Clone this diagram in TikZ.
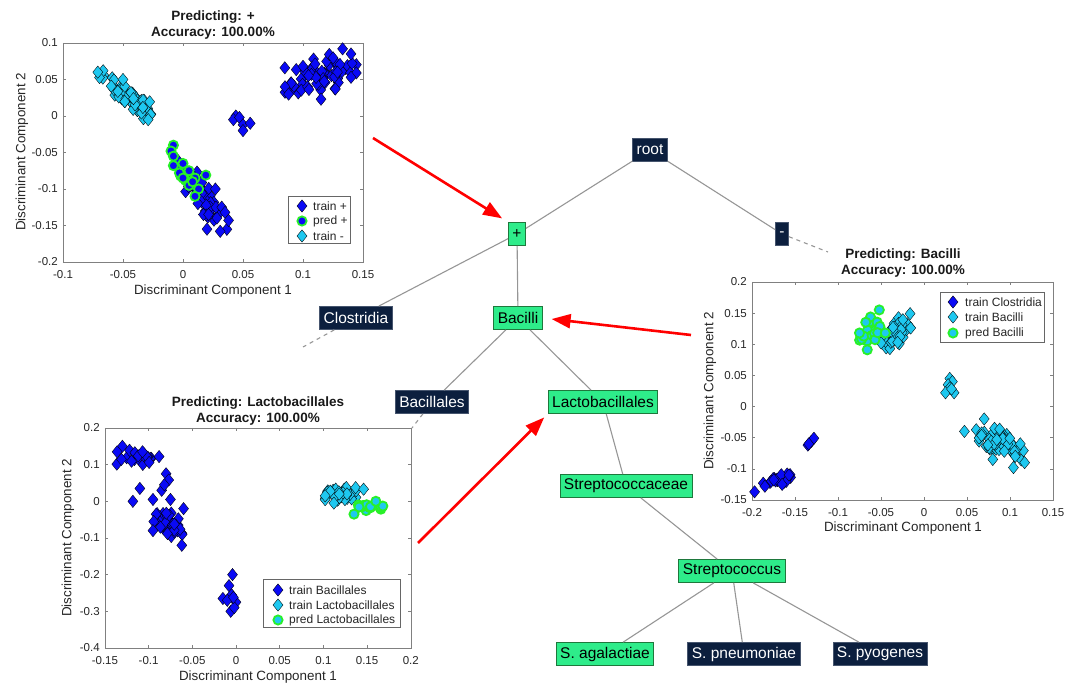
\documentclass[tikz,border=0pt]{standalone}
\usepackage{fontspec}
\setmainfont{Liberation Sans}
\usetikzlibrary{arrows.meta,positioning}

\definecolor{navy}{RGB}{12,31,62}
\definecolor{navyedge}{RGB}{70,85,110}
\definecolor{leaf}{RGB}{46,236,138}
\definecolor{leafedge}{RGB}{30,120,60}
\definecolor{mblue}{RGB}{10,10,245}
\definecolor{mcyan}{RGB}{30,200,240}
\definecolor{mgreen}{RGB}{40,240,40}
\definecolor{treeline}{RGB}{150,150,150}

\tikzset{
  taxon/.style={draw=navyedge, fill=navy, text=white, font=\fontsize{15.5}{16}\selectfont,
    inner xsep=4pt, inner ysep=0pt, minimum height=23pt, line width=0.8pt},
  hit/.style={taxon, draw=leafedge, fill=leaf, text=black},
  branch/.style={treeline, line width=1.1pt},
  cut/.style={branch, dash pattern=on 4pt off 4pt},
  pointer/.style={red, line width=2.6pt, -{Triangle[length=19pt,width=14pt]}},
  frame/.style={black!50, line width=0.6pt},
  ticklbl/.style={font=\fontsize{11.5}{12}\selectfont, text=black!85, inner sep=1pt},
  axlbl/.style={font=\fontsize{13.4}{14}\selectfont, text=black!85},
  ttl/.style={font=\bfseries\fontsize{13.5}{16.5}\selectfont, align=center, text=black!90},
  keybox/.style={draw=black!60, fill=white, line width=0.6pt},
  keytxt/.style={font=\fontsize{12}{13}\selectfont, anchor=west, inner sep=0pt, text=black!85},
}

% one diamond / circle marker
\newcommand{\dmark}[3]{\filldraw[fill=#1, draw=black, line width=0.35pt] (#2,#3) ++(0pt,6.2pt)
  -- ++(5pt,-6.2pt) -- ++(-5pt,-6.2pt) -- ++(-5pt,6.2pt) -- cycle;}
\newcommand{\cmark}[3]{\filldraw[fill=#1, draw=mgreen, line width=1.8pt] (#2,#3) circle[radius=4.6pt];}

% random cloud: n, centre, half axes a and b, colour
\newcommand{\dcloud}[8]{%
  \foreach \k in {1,...,#1}{%
    \pgfmathsetmacro\ru{(rand+rand)/2}%
    \pgfmathsetmacro\rv{(rand+rand)/2}%
    \pgfmathsetmacro\ux{#2+\ru*(#4)+\rv*(#6)}%
    \pgfmathsetmacro\uy{#3+\ru*(#5)+\rv*(#7)}%
    \dmark{#8}{\ux}{\uy}}}
\newcommand{\ccloud}[8]{%
  \foreach \k in {1,...,#1}{%
    \pgfmathsetmacro\ru{(rand+rand)/2}%
    \pgfmathsetmacro\rv{(rand+rand)/2}%
    \pgfmathsetmacro\ux{#2+\ru*(#4)+\rv*(#6)}%
    \pgfmathsetmacro\uy{#3+\ru*(#5)+\rv*(#7)}%
    \cmark{#8}{\ux}{\uy}}}

% axes box with inward ticks: prefix, xmin, xmax, ymin, ymax, x ticks, y ticks
\newcommand{\axesbox}[7]{%
  \draw[frame] (#2,#4) rectangle (#3,#5);
  \foreach \t [count=\i] in {#6}{
    \draw[frame] (\t,#4) -- ++(0pt,3pt) (\t,#5) -- ++(0pt,-3pt);
    \node[ticklbl, below=7pt] (#1x\i) at (\t,#4) {\t};
  }
  \foreach \t [count=\i] in {#7}{
    \draw[frame] (#2,\t) -- ++(3pt,0pt) (#3,\t) -- ++(-3pt,0pt);
    \node[ticklbl, left=4pt] (#1y\i) at (#2,\t) {\t};
  }}

\begin{document}
\begin{tikzpicture}[x=1pt, y=-1pt]
\useasboundingbox (0,0) rectangle (1077,687);
\pgfmathsetseed{7}

% tree
\node[taxon] (root) at (650,150) {root};
\node[hit] (plus) at (517,234) {+};
\node[taxon] (minus) at (782,234) {-};
\node[taxon] (clos) at (356,318) {Clostridia};
\node[hit] (bacilli) at (518,318) {Bacilli};
\node[taxon] (bacillales) at (432,402) {Bacillales};
\node[hit] (lacto) at (603,402) {Lactobacillales};
\node[hit] (streptac) at (626,486) {Streptococcaceae};
\node[hit] (strep) at (732,571) {Streptococcus};
\node[hit] (agal) at (605,654) {S. agalactiae};
\node[taxon] (pneu) at (744,654) {S. pneumoniae};
\node[taxon] (pyo) at (880,654) {S. pyogenes};
\coordinate (mcut) at (828,252);
\coordinate (ccut) at (303,347);
\coordinate (bcut) at (412,428);

\draw[branch] (root) -- (plus);
\draw[branch] (root) -- (minus);
\draw[branch] (plus) -- (clos);
\draw[branch] (plus) -- (bacilli);
\draw[branch] (bacilli) -- (bacillales);
\draw[branch] (bacilli) -- (lacto);
\draw[branch] (lacto) -- (streptac);
\draw[branch] (streptac) -- (strep);
\draw[branch] (strep) -- (agal);
\draw[branch] (strep) -- (pneu);
\draw[branch] (strep) -- (pyo);
\draw[cut] (minus) -- (mcut);
\draw[cut] (clos) -- (ccut);
\draw[cut] (bacillales) -- (bcut);

% plot for +
\begin{scope}[shift={(183,116)}, x=1200pt, y=730pt]
\axesbox{pa}{-0.1}{0.15}{-0.2}{0.1}{-0.1,-0.05,0,0.05,0.1,0.15}{-0.2,-0.15,-0.1,-0.05,0,0.05,0.1}
\dcloud{60}{0.112}{0.054}{0.036}{0.018}{-0.008}{0.026}{mblue}
\foreach \qx/\qy in {0.115/0.023, 0.127/0.037, 0.133/0.092, 0.14/0.085, 0.085/0.04, 0.1/0.068,
    0.088/0.03, 0.14/0.053}
  \dmark{mblue}{\qx}{\qy};
\foreach \qx/\qy in {0.044/0, 0.042/-0.005, 0.047/-0.002, 0.05/-0.012, 0.056/-0.01, 0.05/-0.02}
  \dmark{mblue}{\qx}{\qy};
\dcloud{50}{0.013}{-0.105}{0.026}{-0.055}{0.01}{0.007}{mblue}
\foreach \qx/\qy in {0.035/-0.132, 0.038/-0.143, 0.02/-0.155, 0.031/-0.158, 0.027/-0.1}
  \dmark{mblue}{\qx}{\qy};
\foreach \qx/\qy in {-0.008/-0.04, -0.01/-0.048, -0.008/-0.055, -0.008/-0.068, 0/-0.065,
    0.019/-0.081, 0.005/-0.075, -0.002/-0.082, 0.002/-0.088, 0.01/-0.085, 0.013/-0.1,
    0.01/-0.11, 0.005/-0.095, -0.003/-0.078, 0/-0.085, 0.008/-0.09}
  \cmark{mblue}{\qx}{\qy};
\dcloud{60}{-0.047}{0.028}{0.027}{-0.035}{0.007}{0.008}{mcyan}
\foreach \qx/\qy in {-0.071/0.06, -0.027/0.002, -0.029/-0.005, -0.05/0.05}
  \dmark{mcyan}{\qx}{\qy};
\end{scope}
\node[ttl] (ta) at (213,25) {Predicting: +\\Accuracy: 100.00\%};
\node[axlbl] (xa) at (213,291) {Discriminant Component 1};
\node[axlbl, rotate=90] (ya) at (22,152) {Discriminant Component 2};
\draw[keybox] (288,196) rectangle (350,243);
\dmark{mblue}{302}{206}
\cmark{mblue}{302}{221}
\dmark{mcyan}{302}{236}
\node[keytxt] (ka1) at (313,206) {train +};
\node[keytxt] (ka2) at (313,221) {pred +};
\node[keytxt] (ka3) at (313,236) {train -};

% plot for Bacilli
\begin{scope}[shift={(924,406.5)}, x=860pt, y=623pt]
\axesbox{pb}{-0.2}{0.15}{-0.15}{0.2}{-0.2,-0.15,-0.1,-0.05,0,0.05,0.1,0.15}{-0.15,-0.1,-0.05,0,0.05,0.1,0.15,0.2}
\dcloud{20}{-0.172}{-0.12}{0.022}{0.012}{0.003}{-0.008}{mblue}
\foreach \qx/\qy in {-0.197/-0.137, -0.157/-0.11, -0.135/-0.062, -0.131/-0.056, -0.128/-0.051, -0.134/-0.06,
    -0.185/-0.128, -0.165/-0.125}
  \dmark{mblue}{\qx}{\qy};
\dcloud{40}{-0.03}{0.12}{0.018}{0.033}{0.01}{-0.01}{mcyan}
\foreach \qx/\qy in {0.03/0.045, 0.033/0.04, 0.028/0.035, 0.03/0.03, 0.025/0.022, 0.035/0.022, 0.032/0.028}
  \dmark{mcyan}{\qx}{\qy};
\dcloud{55}{0.085}{-0.055}{0.034}{-0.033}{0.014}{0.016}{mcyan}
\foreach \qx/\qy in {0.047/-0.04, 0.104/-0.098, 0.117/-0.09, 0.112/-0.06, 0.08/-0.085, 0.07/-0.02}
  \dmark{mcyan}{\qx}{\qy};
\ccloud{22}{-0.063}{0.12}{0.015}{0}{0}{0.025}{mcyan}
\foreach \qx/\qy in {-0.052/0.155, -0.045/0.118, -0.066/0.091, -0.075/0.118}
  \cmark{mcyan}{\qx}{\qy};
\end{scope}
\node[ttl] (tb) at (903,263) {Predicting: Bacilli\\Accuracy: 100.00\%};
\node[axlbl] (xb) at (903,528) {Discriminant Component 1};
\node[axlbl, rotate=90] (yb) at (710,391) {Discriminant Component 2};
\draw[keybox] (940,292) rectangle (1044,342);
\dmark{mblue}{953}{302}
\dmark{mcyan}{953}{317}
\cmark{mcyan}{953}{333}
\node[keytxt] (kb1) at (965,302) {train Clostridia};
\node[keytxt] (kb2) at (965,317) {train Bacilli};
\node[keytxt] (kb3) at (965,333) {pred Bacilli};

% plot for Lactobacillales
\begin{scope}[shift={(236,501.3)}, x=874pt, y=366.7pt]
\axesbox{pc}{-0.15}{0.2}{-0.4}{0.2}{-0.15,-0.1,-0.05,0,0.05,0.1,0.15,0.2}{-0.4,-0.3,-0.2,-0.1,0,0.1,0.2}
\dcloud{22}{-0.112}{0.12}{0.028}{0}{0}{0.025}{mblue}
\foreach \qx/\qy in {-0.13/0.15, -0.136/0.135, -0.088/0.122, -0.11/0.035, -0.118/0, -0.095/0.005,
    -0.085/0.03, -0.08/0.075, -0.077/0.058, -0.075/0.005, -0.082/0.045}
  \dmark{mblue}{\qx}{\qy};
\dcloud{40}{-0.075}{-0.065}{0.016}{-0.04}{0.016}{0.014}{mblue}
\foreach \qx/\qy in {-0.06/-0.02, -0.062/-0.12, -0.095/-0.08, -0.004/-0.2, -0.008/-0.23,
    -0.015/-0.265, -0.005/-0.255, 0/-0.275, -0.006/-0.3, -0.002/-0.29, -0.01/-0.27, -0.003/-0.262}
  \dmark{mblue}{\qx}{\qy};
\dcloud{38}{0.122}{0.02}{0.025}{0}{0}{0.024}{mcyan}
\foreach \qx/\qy in {0.146/0.033, 0.102/0.015, 0.112/-0.005}
  \dmark{mcyan}{\qx}{\qy};
\ccloud{14}{0.153}{-0.015}{0.018}{0}{0}{0.014}{mcyan}
\foreach \qx/\qy in {0.135/-0.035, 0.168/-0.013, 0.16/0}
  \cmark{mcyan}{\qx}{\qy};
\end{scope}
\node[ttl] (tc) at (258,411) {Predicting: Lactobacillales\\Accuracy: 100.00\%};
\node[axlbl] (xc) at (258,677) {Discriminant Component 1};
\node[axlbl, rotate=90] (yc) at (68,538) {Discriminant Component 2};
\draw[keybox] (263,579) rectangle (400,627);
\dmark{mblue}{278}{590}
\dmark{mcyan}{278}{605}
\cmark{mcyan}{278}{620}
\node[keytxt] (kc1) at (289,590) {train Bacillales};
\node[keytxt] (kc2) at (289,605) {train Lactobacillales};
\node[keytxt] (kc3) at (289,620) {pred Lactobacillales};

% red pointers
\coordinate (fa) at (373,138);
\coordinate (fb) at (691,335);
\coordinate (fc) at (418,543);
\draw[pointer, shorten >=7pt] (fa) -- (plus.north west);
\draw[pointer, shorten >=9pt] (fb) -- (bacilli.east);
\draw[pointer, shorten >=5pt] (fc) -- (lacto.south west);
\end{tikzpicture}
\end{document}
